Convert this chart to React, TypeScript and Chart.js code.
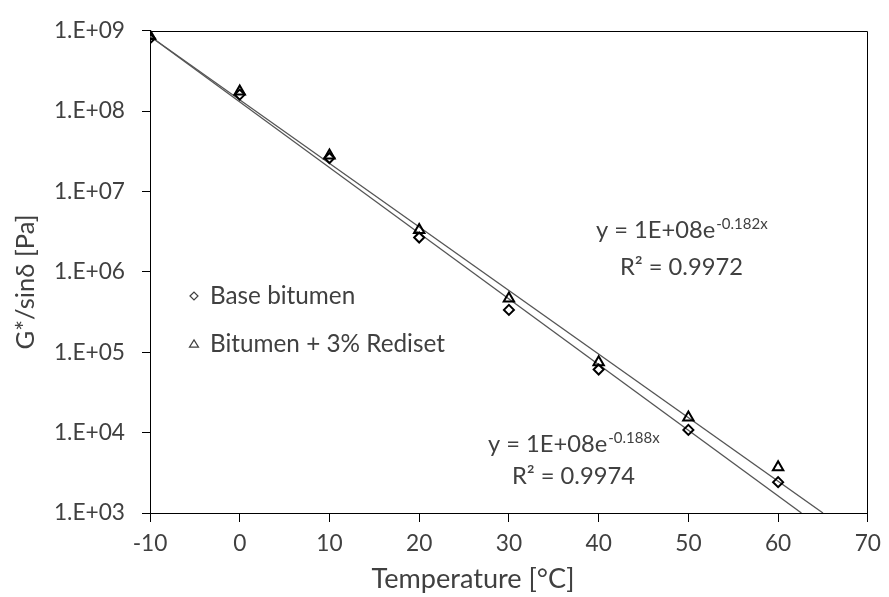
import React, { useEffect, useRef } from 'react';
import { Chart, registerables } from 'chart.js';

Chart.register(...registerables);

// ---- data ----
const temperatures = [-10, 0, 10, 20, 30, 40, 50, 60];
const baseBitumen = [8.0e8, 1.6e8, 2.6e7, 2.67e6, 3.36e5, 6.1e4, 1.08e4, 2.42e3];
const rediset = [8.6e8, 1.75e8, 2.8e7, 3.3e6, 4.65e5, 7.5e4, 1.54e4, 3.7e3];
const baseTrendX = [-10, 62.6];
const baseTrendY = [8.5e8, 1e3];
const redisetTrendX = [-10, 65];
const redisetTrendY = [8.5e8, 1e3];
const xTickValues = [-10, 0, 10, 20, 30, 40, 50, 60, 70];
const yTickValues = [1e3, 1e4, 1e5, 1e6, 1e7, 1e8, 1e9];
const yTickLabels = ['1.E+03', '1.E+04', '1.E+05', '1.E+06', '1.E+07', '1.E+08', '1.E+09'];
const seriesNames = ['Base bitumen', 'Bitumen + 3% Rediset'];
const eqBase = ['y = 1E+08e', '-0.188x', 'R² = 0.9974'];
const eqRediset = ['y = 1E+08e', '-0.182x', 'R² = 0.9972'];
const xTitle = 'Temperature [°C]';
const yTitle = 'G*/sinδ [Pa]';

const FONT = 'Lato';
const TEXT = '#404040';

function fitSize(text: string, target: number): number {
  const c = document.createElement('canvas').getContext('2d')!;
  c.font = `100px ${FONT}`;
  const w = c.measureText(text).width;
  return Math.round((100 * target / w) * 10) / 10;
}

function drawMarker(ctx: CanvasRenderingContext2D, style: string, x: number, y: number, r: number) {
  if (style === 'rectRot') {
    ctx.moveTo(x - r, y);
    ctx.lineTo(x, y - r);
    ctx.lineTo(x + r, y);
    ctx.lineTo(x, y + r);
    ctx.closePath();
  } else {
    const h = r * 1.6;
    ctx.moveTo(x, y - h / 2);
    ctx.lineTo(x + r, y + h / 2);
    ctx.lineTo(x - r, y + h / 2);
    ctx.closePath();
  }
}

export default function App() {
  const ref = useRef<HTMLCanvasElement>(null);
  useEffect(() => {
    if (!ref.current) return;
    const tickSize = fitSize('1.E+09', 71);
    const legendSize = fitSize('Bitumen + 3% Rediset', 235);
    const eqSize = fitSize('R² = 0.9972', 123);
    const xTitleSize = fitSize(xTitle, 203);
    const yTitleSize = fitSize(yTitle, 135);

    const overlay = {
      id: 'overlay',
      afterDraw(chart: any) {
        const ctx = chart.ctx;
        const a = chart.chartArea;
        ctx.save();
        ctx.strokeStyle = '#000';
        ctx.lineWidth = 1;
        ctx.beginPath();
        ctx.moveTo(Math.round(a.left) + 0.5, Math.round(a.top) + 0.5);
        ctx.lineTo(Math.round(a.right) - 0.5, Math.round(a.top) + 0.5);
        ctx.lineTo(Math.round(a.right) - 0.5, Math.round(a.bottom));
        ctx.stroke();

        ctx.fillStyle = TEXT;
        ctx.textBaseline = 'alphabetic';
        ctx.textAlign = 'left';
        ctx.font = `${legendSize}px ${FONT}`;
        const legendItems = [
          { style: 'rectRot', y: 296, ty: 304, r: 4 },
          { style: 'triangle', y: 343.5, ty: 352, r: 4.5 },
        ];
        legendItems.forEach((it, i) => {
          ctx.save();
          ctx.strokeStyle = '#404040';
          ctx.lineWidth = 1.2;
          ctx.beginPath();
          drawMarker(ctx, it.style, 194, it.y, it.r);
          ctx.stroke();
          ctx.restore();
          ctx.fillText(seriesNames[i], 210, it.ty);
        });

        const drawEq = (eq: string[], x: number, y: number, rx: number, ry: number) => {
          ctx.font = `${eqSize}px ${FONT}`;
          ctx.fillText(eq[0], x, y);
          const w = ctx.measureText(eq[0]).width;
          ctx.font = `${Math.round(eqSize * 0.65)}px ${FONT}`;
          ctx.fillText(eq[1], x + w + 1, y - 9);
          ctx.font = `${eqSize}px ${FONT}`;
          ctx.fillText(eq[2], rx, ry);
        };
        drawEq(eqRediset, 596, 238, 620, 275);
        drawEq(eqBase, 488, 452, 512, 484);

        ctx.textAlign = 'center';
        ctx.font = `${xTitleSize}px ${FONT}`;
        ctx.fillText(xTitle, 473, 588);
        ctx.save();
        ctx.translate(34, 282);
        ctx.rotate(-Math.PI / 2);
        ctx.font = `${yTitleSize}px ${FONT}`;
        ctx.fillText(yTitle, 0, 0);
        ctx.restore();
        ctx.restore();
      },
    };

    const pts = (xs: number[], ys: number[]) => xs.map((x, i) => ({ x, y: ys[i] }));
    const chart = new Chart(ref.current, {
      type: 'scatter',
      data: {
        datasets: [
          {
            label: seriesNames[0],
            data: pts(temperatures, baseBitumen),
            pointStyle: 'rectRot',
            pointRadius: 5,
            borderColor: '#000',
            backgroundColor: 'rgba(0,0,0,0)',
            pointBorderWidth: 2,
            order: 0,
          },
          {
            label: seriesNames[1],
            data: pts(temperatures, rediset),
            pointStyle: 'triangle',
            pointRadius: 6,
            borderColor: '#000',
            backgroundColor: 'rgba(0,0,0,0)',
            pointBorderWidth: 2,
            order: 0,
          },
          {
            label: 'trend base',
            data: pts(baseTrendX, baseTrendY),
            showLine: true,
            pointRadius: 0,
            borderColor: '#555',
            borderWidth: 1.3,
            order: 1,
          },
          {
            label: 'trend rediset',
            data: pts(redisetTrendX, redisetTrendY),
            showLine: true,
            pointRadius: 0,
            borderColor: '#555',
            borderWidth: 1.3,
            order: 1,
          },
        ],
      } as any,
      options: {
        responsive: false,
        animation: false,
        events: [],
        layout: { padding: { left: 0, right: 16, top: 19, bottom: 0 } },
        plugins: { legend: { display: false }, tooltip: { enabled: false } },
        scales: {
          x: {
            type: 'linear',
            min: -10,
            max: 70,
            afterBuildTicks: (s: any) => {
              s.ticks = xTickValues.map((v) => ({ value: v }));
            },
            afterFit: (s: any) => {
              s.height = 84;
            },
            grid: { drawOnChartArea: false, drawTicks: true, tickLength: 9, color: '#000' },
            border: { display: true, color: '#000', width: 1 },
            ticks: {
              font: { family: FONT, size: tickSize },
              color: TEXT,
              padding: 8,
              maxRotation: 0,
              autoSkip: false,
            },
          },
          y: {
            type: 'logarithmic',
            min: yTickValues[0],
            max: yTickValues[yTickValues.length - 1],
            afterBuildTicks: (s: any) => {
              s.ticks = yTickValues.map((v) => ({ value: v }));
            },
            afterFit: (s: any) => {
              s.width = 150;
            },
            grid: { drawOnChartArea: false, drawTicks: true, tickLength: 8, color: '#000' },
            border: { display: true, color: '#000', width: 1 },
            ticks: {
              font: { family: FONT, size: tickSize },
              color: TEXT,
              padding: 17,
              autoSkip: false,
              callback: (_v: any, i: number) => yTickLabels[i],
            },
          },
        },
      } as any,
      plugins: [overlay],
    });
    return () => chart.destroy();
  }, []);
  return (
    <div style={{ position: 'fixed', left: 0, top: 0, width: 889, height: 597, background: '#fff' }}>
      <canvas ref={ref} width={889} height={597} style={{ width: 889, height: 597, display: 'block' }} />
    </div>
  );
}
